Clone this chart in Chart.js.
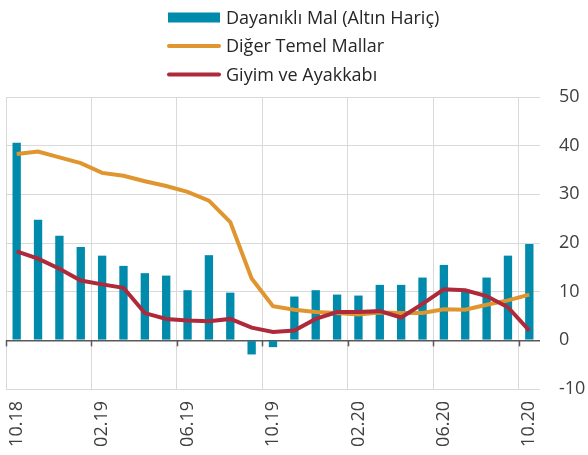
<!DOCTYPE html>
<html>
<head>
<meta charset="utf-8">
<script src="https://cdn.jsdelivr.net/npm/chart.js@4"></script>
<style>
  html, body { margin: 0; padding: 0; background: #fff; }
</style>
</head>
<body>
<canvas id="myChart" width="588" height="455"></canvas>
<script>
// months 10.18 .. 10.20
var months = [
  "10.18", "11.18", "12.18", "01.19", "02.19", "03.19", "04.19", "05.19", "06.19",
  "07.19", "08.19", "09.19", "10.19", "11.19", "12.19", "01.20", "02.20", "03.20",
  "04.20", "05.20", "06.20", "07.20", "08.20", "09.20", "10.20"
];
var durableGoods = [
  40.6, 24.8, 21.5, 19.2, 17.4, 15.3, 13.8, 13.3, 10.3, 17.5, 9.8, -2.9, -1.4,
  9.0, 10.3, 9.4, 9.2, 11.4, 11.4, 12.9, 15.5, 10.0, 12.9, 17.4, 19.8
];
var otherCoreGoods = [
  38.3, 38.8, 37.6, 36.4, 34.4, 33.8, 32.7, 31.7, 30.5, 28.7, 24.3, 12.7, 7.0,
  6.3, 5.8, 5.6, 5.3, 5.7, 5.6, 5.6, 6.4, 6.3, 7.3, 8.2, 9.4
];
var clothing = [
  18.3, 16.8, 14.7, 12.3, 11.5, 10.8, 5.6, 4.4, 4.1, 3.9, 4.4, 2.6, 1.7,
  2.0, 4.4, 5.8, 5.8, 6.0, 4.7, 7.5, 10.5, 10.3, 9.1, 6.8, 2.0
];
var yMin = -10;
var yMax = 50;
var yStep = 10;

var gridGray = "#d9d9d9";
var textGray = "#404040";
var fontFamily = "'Open Sans'";

// legend stacked in three rows above the plot
var stackLegend = {
  id: "stackLegend",
  afterDraw: function (chart) {
    var c = chart.ctx;
    c.save();
    c.font = "18px " + fontFamily;
    c.textBaseline = "middle";
    chart.data.datasets.forEach(function (ds, i) {
      var y = 17.5 + i * 28.5;
      if (ds.type === "bar") {
        c.fillStyle = ds.backgroundColor;
        c.fillRect(168, y - 5, 52, 10);
      } else {
        c.strokeStyle = ds.borderColor;
        c.lineWidth = 4;
        c.lineCap = "round";
        c.beginPath();
        c.moveTo(169, y);
        c.lineTo(219, y);
        c.stroke();
      }
      c.fillStyle = "#262626";
      c.fillText(ds.label, 226, y + 1);
    });
    c.restore();
  }
};

// small tick marks hanging below the zero line
var zeroTicks = {
  id: "zeroTicks",
  beforeDatasetsDraw: function (chart) {
    var x = chart.scales.x;
    var y0 = chart.scales.y.getPixelForValue(0);
    var step = x.width / months.length;
    var c = chart.ctx;
    c.save();
    c.strokeStyle = "#595959";
    c.lineWidth = 1.5;
    for (var i = 0; i < months.length; i += 4) {
      var px = Math.round(x.left + i * step) + 0.5;
      c.beginPath();
      c.moveTo(px, y0);
      c.lineTo(px, y0 + 6);
      c.stroke();
    }
    c.restore();
  }
};

var ctx = document.getElementById("myChart").getContext("2d");
var myChart = new Chart(ctx, {
  data: {
    labels: months,
    datasets: [
      {
        type: "bar",
        label: "Dayanıklı Mal (Altın Hariç)",
        data: durableGoods,
        backgroundColor: "#008aab",
        borderWidth: 0,
        barPercentage: 0.39,
        categoryPercentage: 1,
        order: 3,
      },
      {
        type: "line",
        label: "Diğer Temel Mallar",
        data: otherCoreGoods,
        borderColor: "#e0952f",
        backgroundColor: "#e0952f",
        borderWidth: 4,
        pointRadius: 0,
        tension: 0,
        order: 2,
      },
      {
        type: "line",
        label: "Giyim ve Ayakkabı",
        data: clothing,
        borderColor: "#ae2a3a",
        backgroundColor: "#ae2a3a",
        borderWidth: 4,
        pointRadius: 0,
        tension: 0,
        order: 1,
      },
    ],
  },
  options: {
    responsive: false,
    animation: false,
    layout: {
      padding: { top: 97, left: 6, right: 0, bottom: 2 },
    },
    plugins: {
      legend: { display: false },
      tooltip: { enabled: false },
    },
    scales: {
      x: {
        offset: true,
        afterFit: function (scale) {
          scale.height = 64;
        },
        grid: {
          offset: true,
          drawTicks: false,
          color: function (c) {
            return c.index % 4 === 0 ? gridGray : "rgba(0,0,0,0)";
          },
        },
        border: { display: false },
        ticks: {
          autoSkip: false,
          minRotation: 90,
          maxRotation: 90,
          padding: 12,
          color: textGray,
          font: { family: fontFamily, size: 18 },
          callback: function (v, i) {
            return i % 4 === 0 ? months[i] : "";
          },
        },
      },
      y: {
        position: "right",
        min: yMin,
        max: yMax,
        afterFit: function (scale) {
          scale.width = 48;
        },
        grid: {
          drawTicks: false,
          color: function (c) {
            return c.tick.value === 0 ? "#595959" : gridGray;
          },
          lineWidth: function (c) {
            return c.tick.value === 0 ? 1.5 : 1;
          },
        },
        border: { display: false },
        ticks: {
          stepSize: yStep,
          padding: 19,
          color: textGray,
          font: { family: fontFamily, size: 18 },
        },
      },
    },
  },
  plugins: [zeroTicks, stackLegend],
});
</script>
</body>
</html>
